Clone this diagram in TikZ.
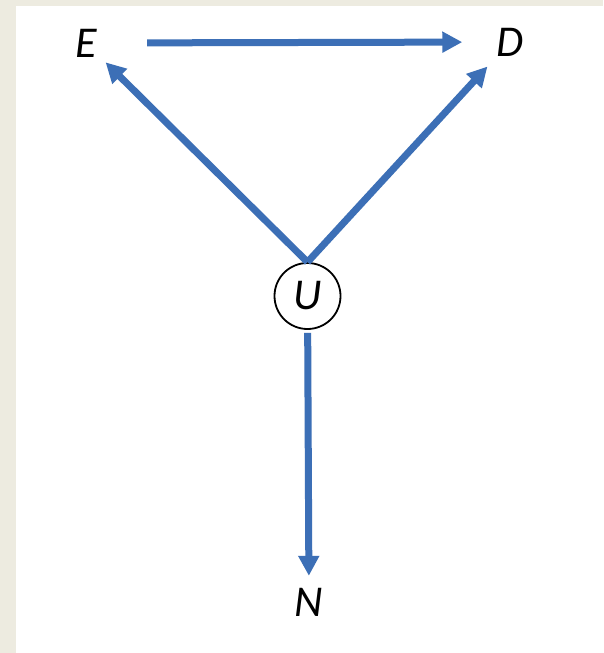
\documentclass[tikz,border=0pt]{standalone}
\usepackage{fontspec}
\setmainfont{Carlito}
\usetikzlibrary{arrows.meta}
\definecolor{edgeblue}{HTML}{3C6FB6}
\definecolor{paperbg}{HTML}{EDEBE0}

\begin{document}
\begin{tikzpicture}[x=1pt,y=-1pt,>={Triangle[length=20pt,width=20pt]},
        var/.style={inner sep=0pt,minimum width=26pt,minimum height=30pt,font=\fontsize{44}{44}\selectfont\itshape},
        edge/.style={->,draw=edgeblue,fill=edgeblue,line width=7pt}]
        \fill[paperbg] (0,0) rectangle (603,653);
        \fill[white] (16,6) rectangle (603,653);
        \useasboundingbox (0,0) rectangle (603,653);
        \node[var] (E) at (86,43) {E};
        \node[var] (D) at (510,42) {D};
        \node[var,draw,circle,minimum size=66pt,line width=1.8pt] (U) at (307.5,296) {U};
        \node[var] (N) at (309,602) {N};
        \draw[edge,shorten <=48pt,shorten >=34pt] (E) -- (D);
        \draw[edge,shorten >=9pt] (U.north) -- (E);
        \draw[edge,shorten >=13pt] (U.north) -- (D);
        \draw[edge,shorten <=3pt,shorten >=11pt] (U) -- (N);
    \end{tikzpicture}
\end{document}
